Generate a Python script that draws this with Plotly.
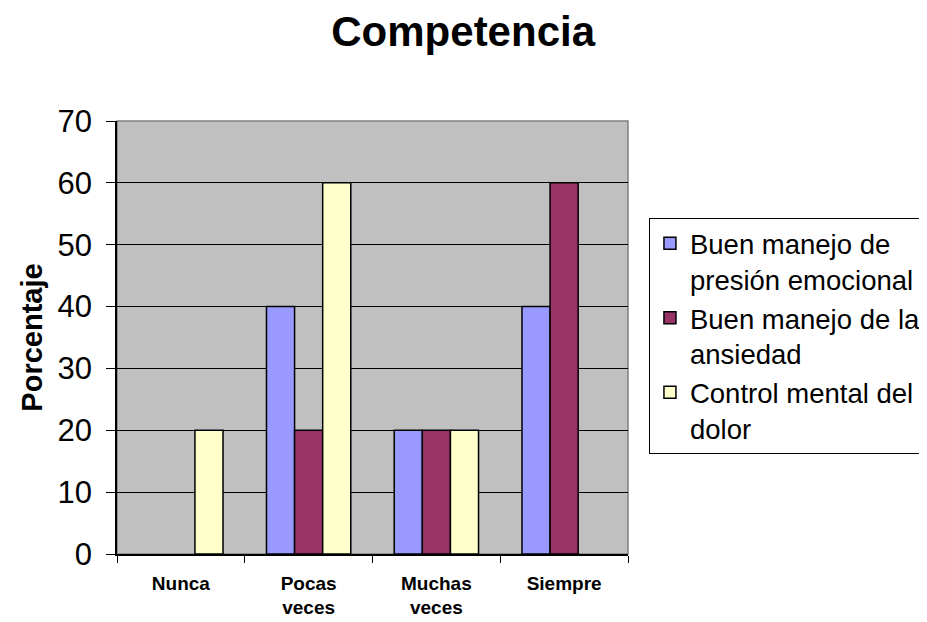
import plotly.graph_objects as go

categories = ["Nunca", "Pocas<br>veces", "Muchas<br>veces", "Siempre"]
series_names = ["Buen manejo de<br>presión emocional", "Buen manejo de la<br>ansiedad", "Control mental del<br>dolor"]
presion = [None, 40, 20, 40]
ansiedad = [None, 20, 20, 60]
dolor = [20, 60, 20, None]
colors = ["#9999FF", "#993366", "#FFFFCC"]

FONT = "Liberation Sans, Arial, sans-serif"

fig = go.Figure()
for name, vals, col in zip(series_names, [presion, ansiedad, dolor], colors):
    fig.add_trace(go.Bar(
        x=categories, y=vals, name=name,
        marker=dict(color=col, line=dict(color="black", width=1.5)),
    ))

fig.update_layout(
    width=927, height=622,
    barmode="group", bargap=0.34, bargroupgap=0,
    paper_bgcolor="white", plot_bgcolor="#C0C0C0",
    margin=dict(l=109, r=307, t=113, b=76, autoexpand=False),
    font=dict(family=FONT, color="black"),
    title=dict(text="<b>Competencia</b>", x=0.491, xanchor="center", y=0.963, yanchor="middle",
               font=dict(size=42, color="black", family=FONT)),
    legend=dict(x=1.041, xanchor="left", y=0.776, yanchor="top",
                bordercolor="black", borderwidth=1, bgcolor="white",
                font=dict(size=27.5, color="black", family=FONT), tracegroupgap=0,
                itemwidth=30, valign="top"),
    showlegend=True,
)
fig.update_xaxes(
    showline=True, linecolor="black", linewidth=1.5, mirror=False,
    ticks="outside", ticklen=7, tickcolor="black", tickson="boundaries",
    tickfont=dict(size=19, color="black", family=FONT),
    tickprefix="<b>", ticksuffix="</b>",
    ticklabelstandoff=11,
    showgrid=False,
)
fig.update_yaxes(
    range=[0, 70], dtick=10,
    showline=True, linecolor="black", linewidth=1.5,
    ticks="outside", ticklen=9, tickcolor="black",
    tickfont=dict(size=31, color="black", family=FONT),
    ticklabelstandoff=8,
    showgrid=True, gridcolor="black", gridwidth=1,
    zeroline=False,
    title=dict(text="<b>Porcentaje</b>", font=dict(size=29, color="black", family=FONT), standoff=6),
)
fig.add_shape(type="rect", xref="paper", yref="paper", x0=0, x1=1, y0=0, y1=1,
              line=dict(color="#808080", width=1.5), layer="below")

fig.write_html("out.html")
